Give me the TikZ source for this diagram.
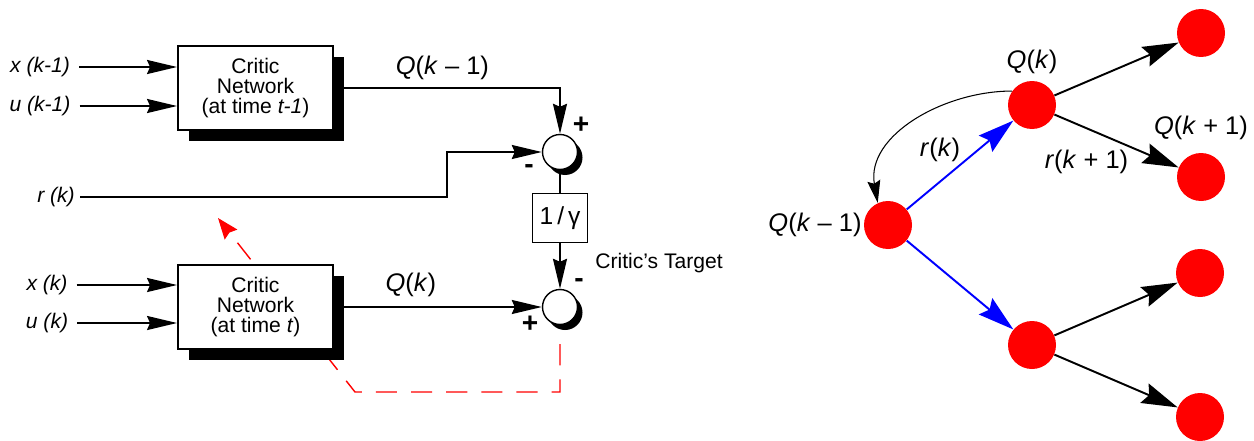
\documentclass[tikz,border=0pt]{standalone}
\usepackage{fontspec}
\setmainfont{Liberation Sans}
\usetikzlibrary{positioning,calc,arrows.meta,shadows}
\definecolor{StateRed}{HTML}{FF0000}
\definecolor{PathBlue}{HTML}{0000FF}
\definecolor{UpdateRed}{HTML}{FF0000}

\begin{document}
\begin{tikzpicture}[x=0.02cm, y=-0.02cm,
  critic/.style={rectangle, draw, line width=1.1pt, fill=white, minimum width=3.1cm, minimum height=1.68cm, align=center, font=\fontsize{12}{11.5}\selectfont, drop shadow={shadow xshift=0.22cm, shadow yshift=-0.22cm, opacity=1, fill=black}},
  sumnode/.style={circle, draw, line width=0.8pt, fill=white, minimum size=0.7cm, inner sep=0pt, drop shadow={shadow xshift=0.1cm, shadow yshift=-0.11cm, opacity=1, fill=black}},
  gainbox/.style={rectangle, draw, line width=1.1pt, fill=white, minimum width=1.1cm, minimum height=0.98cm, font=\fontsize{14}{15}\selectfont},
  inlbl/.style={font=\fontsize{12}{13}\selectfont\itshape, inner sep=1pt},
  sign/.style={font=\fontsize{16}{16}\selectfont\bfseries, inner sep=0pt},
  qlbl/.style={font=\fontsize{14.5}{16}\selectfont, inner sep=1pt},
  state/.style={circle, fill=StateRed, minimum size=0.96cm, inner sep=0pt},
  arr/.style={-{Stealth[length=0.6cm, width=0.28cm, inset=0.06cm]}, line width=1.1pt},
  tarr/.style={-{Stealth[length=0.72cm, width=0.42cm, inset=0.1cm]}, line width=1.1pt},
  barr/.style={tarr, color=PathBlue},
  backarr/.style={-{Stealth[length=0.45cm, width=0.26cm, inset=0.06cm]}, line width=0.6pt},
  updarr/.style={-{Stealth[length=0.42cm, width=0.32cm, inset=0.05cm]}, line width=0.8pt, color=UpdateRed, dash pattern=on 12pt off 8pt}
]
  \useasboundingbox (0,0) rectangle (1254,440);

  % Summing junctions and discount
  \node[sumnode] (sumtop) at (560,152) {};
  \node[gainbox] (gain) at (560,218) {1\,/\,γ};
  \node[sumnode] (sumbot) at (560,307) {};
  \node[sign] at ($(sumtop)+(21,-27)$) {+};
  \node[sign] at ($(sumtop)+(-31,17)$) {-};
  \node[sign] at ($(sumbot)+(19,-24)$) {-};
  \node[sign] at ($(sumbot)+(-30,17)$) {+};
  \node[font=\fontsize{12}{13}\selectfont] (target) at ($(sumbot)+(99,-44)$) {Critic’s Target};

  % Update path (behind the box)
  \coordinate (updcorner) at (355,392);
  \coordinate (updtip) at (218,218);
  \draw[updarr] ([yshift=-0.38cm]sumbot.south) |- (updcorner) -- (updtip);

  % Critic networks
  \node[critic] (critprev) at (255.5,88) {Critic\\Network\\(at time \textit{t-1})};
  \node[critic] (critnow) at (255.5,307) {Critic\\Network\\(at time \textit{t})};

  % Inputs
  \node[inlbl] (lxprev) at (40,67) {x (k-1)};
  \node[inlbl] (luprev) at (40,106) {u (k-1)};
  \node[inlbl] (lxnow) at (47,285) {x (k)};
  \node[inlbl] (lunow) at (47,323) {u (k)};
  \node[inlbl] (lr) at (56,197) {r (k)};
  \draw[arr, shorten <=4pt] (lxprev.east) -- (lxprev.east -| critprev.west);
  \draw[arr, shorten <=4pt] (luprev.east) -- (luprev.east -| critprev.west);
  \draw[arr, shorten <=4pt] (lxnow.east) -- (lxnow.east -| critnow.west);
  \draw[arr, shorten <=4pt] (lunow.east) -- (lunow.east -| critnow.west);

  % Connections
  \draw[arr] (critprev.east) -| node[qlbl, pos=0.24, above=3pt] {\textit{Q}(\textit{k} – 1)} (sumtop.north);
  \draw[arr, shorten <=2pt] (lr.east) -| ([xshift=-1.9cm]sumtop.west) -- (sumtop.west);
  \draw[line width=1.1pt] (sumtop.south) -- (gain.north);
  \draw[arr] (gain.south) -- (sumbot.north);
  \draw[arr] (critnow.east) -- node[qlbl, pos=0.37, above=4pt] {\textit{Q}(\textit{k})} (critnow.east -| sumbot.west);

  % Tree of states
  \node[state] (qprev) at (888,225) {};
  \node[state] (qnow) at (1032,105) {};
  \node[state] (qa) at (1201,33) {};
  \node[state] (qb) at (1201,177) {};
  \node[state] (qlow) at (1032,345) {};
  \node[state] (qc) at (1200,273) {};
  \node[state] (qd) at (1200,417) {};
  \node[qlbl, left=0pt of qprev] {\textit{Q}(\textit{k} – 1)};
  \node[qlbl, above=3pt of qnow] {\textit{Q}(\textit{k})};
  \node[qlbl, above=6pt of qb] {\textit{Q}(\textit{k} + 1)};
  \node[qlbl] (lrk) at ($(qprev)!0.5!(qnow)+(-20,-15)$) {\textit{r}(\textit{k})};
  \node[qlbl] (lrnext) at ($(qnow)!0.5!(qb)+(-30,21)$) {\textit{r}(\textit{k} + 1)};

  \draw[barr] (qprev) -- (qnow);
  \draw[barr] (qprev) -- (qlow);
  \draw[tarr] (qnow) -- (qa);
  \draw[tarr] (qnow) -- (qb);
  \draw[tarr] (qlow) -- (qc);
  \draw[tarr] (qlow) -- (qd);
  \draw[backarr] (qnow.145) to[out=180, in=100] (qprev.115);

\end{tikzpicture}
\end{document}
